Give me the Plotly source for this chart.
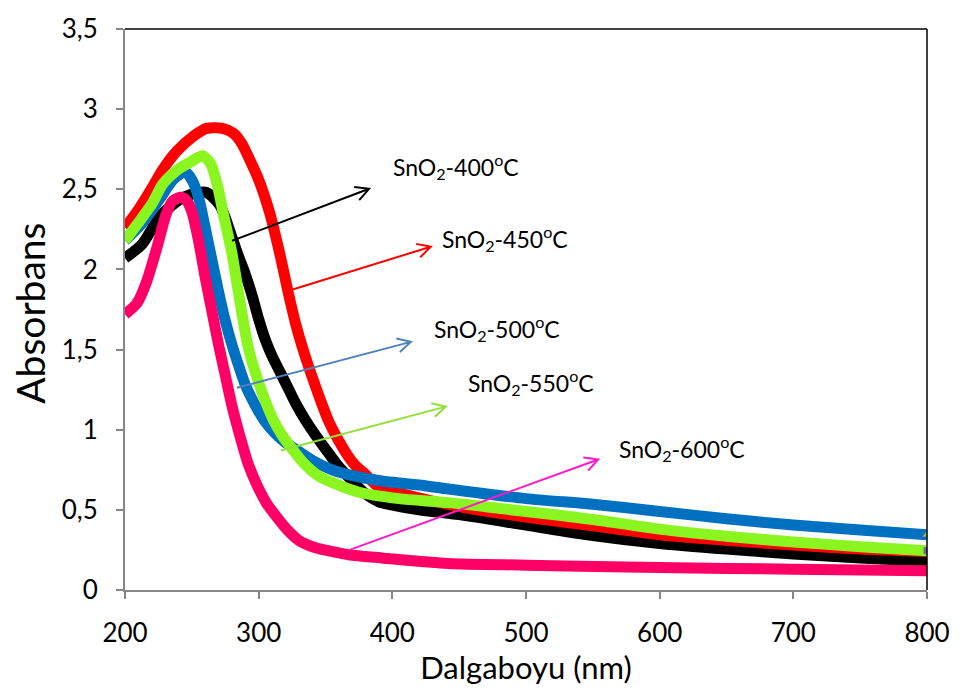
import plotly.graph_objects as go
import math

# ---- data ----
wl_400 = [200, 213, 226, 240, 250, 261, 271, 276, 280, 285, 290, 295, 300, 305, 310, 316, 322, 328, 335, 343, 350, 358, 370, 380, 390, 400, 420, 450, 500, 550, 600, 650, 700, 750, 800]
abs_400 = [2.07, 2.16, 2.33, 2.43, 2.47, 2.48, 2.40, 2.30, 2.20, 2.08, 1.97, 1.84, 1.69, 1.56, 1.46, 1.36, 1.26, 1.16, 1.06, 0.96, 0.88, 0.79, 0.68, 0.60, 0.55, 0.53, 0.50, 0.47, 0.405, 0.34, 0.29, 0.255, 0.225, 0.20, 0.18]

wl_450 = [200, 209, 221, 228, 239, 251, 261, 273, 281, 287, 293, 300, 308, 316, 322, 328, 334, 340, 346, 352, 358, 365, 372, 380, 390, 403, 450, 500, 550, 600, 650, 700, 750, 800]
abs_450 = [2.26, 2.36, 2.52, 2.62, 2.74, 2.83, 2.88, 2.88, 2.85, 2.79, 2.69, 2.56, 2.36, 2.09, 1.86, 1.65, 1.48, 1.33, 1.19, 1.06, 0.96, 0.86, 0.78, 0.72, 0.64, 0.61, 0.52, 0.455, 0.40, 0.345, 0.31, 0.28, 0.255, 0.24]

wl_500 = [200, 213, 226, 236, 245, 250, 255, 260, 265, 270, 275, 280, 285, 290, 297, 304, 312, 320, 330, 342, 355, 372, 392, 420, 442, 500, 550, 600, 650, 700, 750, 800]
abs_500 = [2.18, 2.29, 2.44, 2.56, 2.61, 2.56, 2.45, 2.26, 2.06, 1.86, 1.68, 1.53, 1.40, 1.28, 1.16, 1.06, 0.98, 0.92, 0.865, 0.80, 0.75, 0.71, 0.68, 0.655, 0.63, 0.57, 0.535, 0.49, 0.445, 0.405, 0.375, 0.345]

wl_550 = [200, 209, 221, 228, 239, 251, 258, 264, 269, 274, 280, 284, 288, 292, 297, 304, 311, 318, 326, 335, 345, 358, 375, 405, 442, 500, 550, 600, 650, 700, 750, 800]
abs_550 = [2.18, 2.28, 2.42, 2.53, 2.62, 2.68, 2.71, 2.66, 2.53, 2.33, 2.10, 1.90, 1.70, 1.52, 1.37, 1.20, 1.06, 0.96, 0.87, 0.78, 0.71, 0.66, 0.61, 0.57, 0.545, 0.49, 0.44, 0.38, 0.335, 0.30, 0.27, 0.245]

wl_600 = [200, 209, 216, 224, 231, 236, 242, 246, 250, 255, 260, 265, 270, 275, 280, 286, 292, 299, 306, 314, 322, 330, 342, 355, 372, 392, 442, 500, 600, 700, 800]
abs_600 = [1.72, 1.79, 1.92, 2.14, 2.35, 2.43, 2.45, 2.43, 2.36, 2.18, 1.95, 1.74, 1.53, 1.34, 1.15, 0.96, 0.79, 0.65, 0.54, 0.45, 0.37, 0.31, 0.265, 0.24, 0.215, 0.20, 0.165, 0.155, 0.14, 0.13, 0.12]

series = [
    ("SnO2-400", wl_400, abs_400, "#000000"),
    ("SnO2-450", wl_450, abs_450, "#FF0000"),
    ("SnO2-500", wl_500, abs_500, "#0070C0"),
    ("SnO2-550", wl_550, abs_550, "#8AF51F"),
    ("SnO2-600", wl_600, abs_600, "#FF0066"),
]

# annotation labels, arrow tail/head (data units) and colours
labels = ["SnO<sub>2</sub>-400<sup>o</sup>C", "SnO<sub>2</sub>-450<sup>o</sup>C",
          "SnO<sub>2</sub>-500<sup>o</sup>C", "SnO<sub>2</sub>-550<sup>o</sup>C",
          "SnO<sub>2</sub>-600<sup>o</sup>C"]
arrow_tail = [(280.5, 2.185), (325.2, 1.878), (284.2, 1.267), (317.0, 0.875), (369.2, 0.263)]
arrow_head = [(382.6, 2.503), (428.8, 2.142), (413.9, 1.548), (440.0, 1.144), (554.0, 0.814)]
label_pos = [(399.0, 2.64), (435.5, 2.19), (429.6, 1.63), (455.0, 1.295), (568.2, 0.885)]
arrow_colors = ["#000000", "#FF0000", "#4F81BD", "#92E03A", "#FF19C8"]

x_ticks = [200, 300, 400, 500, 600, 700, 800]
y_ticks = [0, 0.5, 1, 1.5, 2, 2.5, 3, 3.5]

W, H = 962, 693
ML, MR, MT, MB = 125, 32, 18, 103
XR = (200, 800)
YR = (0, 3.5)
px_per_x = (W - ML - MR) / (XR[1] - XR[0])
px_per_y = (H - MT - MB) / (YR[1] - YR[0])

fig = go.Figure()
for name, xs, ys, col in series:
    fig.add_trace(go.Scatter(x=xs, y=ys, mode="lines", name=name,
                             line=dict(color=col, width=11, shape="spline", smoothing=0.7),
                             showlegend=False, hoverinfo="skip"))

# small end-point markers visible at 800 nm on the blue and green curves
fig.add_trace(go.Scatter(x=[wl_500[-1]], y=[abs_500[-1]], mode="markers", showlegend=False,
                         hoverinfo="skip",
                         marker=dict(symbol="triangle-up", size=8, color="#9BBB59")))
fig.add_trace(go.Scatter(x=[wl_550[-1]], y=[abs_550[-1]], mode="markers", showlegend=False,
                         hoverinfo="skip",
                         marker=dict(symbol="square", size=7, color="#8064A2")))

FONT = "Lato"
shapes = []
annotations = []
for lab, (tx, ty), (hx, hy), lp, col in zip(labels, arrow_tail, arrow_head, label_pos, arrow_colors):
    dx = (tx - hx) * px_per_x
    dy = (ty - hy) * px_per_y
    L = math.hypot(dx, dy)
    ux, uy = dx / L, dy / L
    hl = 15
    ang = math.radians(28)
    a1 = (hl * (ux * math.cos(ang) - uy * math.sin(ang)), hl * (ux * math.sin(ang) + uy * math.cos(ang)))
    a2 = (hl * (ux * math.cos(-ang) - uy * math.sin(-ang)), hl * (ux * math.sin(-ang) + uy * math.cos(-ang)))
    path = (f"M {dx:.2f},{dy:.2f} L 0,0 "
            f"M {a1[0]:.2f},{a1[1]:.2f} L 0,0 L {a2[0]:.2f},{a2[1]:.2f}")
    shapes.append(dict(type="path", xref="x", yref="y", xsizemode="pixel", ysizemode="pixel",
                       xanchor=hx, yanchor=hy, path=path,
                       line=dict(color=col, width=2)))
    annotations.append(dict(x=lp[0], y=lp[1], xref="x", yref="y", text=lab, showarrow=False,
                            xanchor="left", yanchor="middle",
                            font=dict(family=FONT, size=23, color="#000000")))

# y-axis title as rotated text
annotations.append(dict(x=(30 - ML) / (W - ML - MR), y=(590 - 308) / (H - MT - MB),
                        xref="paper", yref="paper", text="Absorbans", textangle=-90,
                        showarrow=False, xanchor="center", yanchor="middle",
                        font=dict(family=FONT, size=39, color="#000000")))

# black top and right border
shapes.append(dict(type="line", xref="paper", yref="paper", x0=0, x1=1, y0=1, y1=1,
                   line=dict(color="#000000", width=1.5)))
shapes.append(dict(type="line", xref="paper", yref="paper", x0=1, x1=1, y0=0, y1=1,
                   line=dict(color="#000000", width=1.5)))

fig.update_layout(
    width=W, height=H,
    margin=dict(l=ML, r=MR, t=MT, b=MB),
    paper_bgcolor="white", plot_bgcolor="white",
    separators=",.",
    font=dict(family=FONT, color="#000000"),
    shapes=shapes, annotations=annotations,
    xaxis=dict(range=list(XR), tickvals=x_ticks, showgrid=False, zeroline=False,
               showline=True, linecolor="#868686", linewidth=2,
               ticks="outside", ticklen=7, tickwidth=2, tickcolor="#868686",
               ticklabelstandoff=12,
               tickfont=dict(family=FONT, size=26, color="#000000"),
               title=dict(text="Dalgaboyu (nm)", font=dict(family=FONT, size=31, color="#000000"), standoff=0)),
    yaxis=dict(range=list(YR), tickvals=y_ticks, showgrid=False, zeroline=False,
               showline=True, linecolor="#868686", linewidth=2,
               ticks="outside", ticklen=7, tickwidth=2, tickcolor="#868686",
               ticklabelstandoff=13,
               tickfont=dict(family=FONT, size=26, color="#000000")),
)

fig.write_html("out.html")
